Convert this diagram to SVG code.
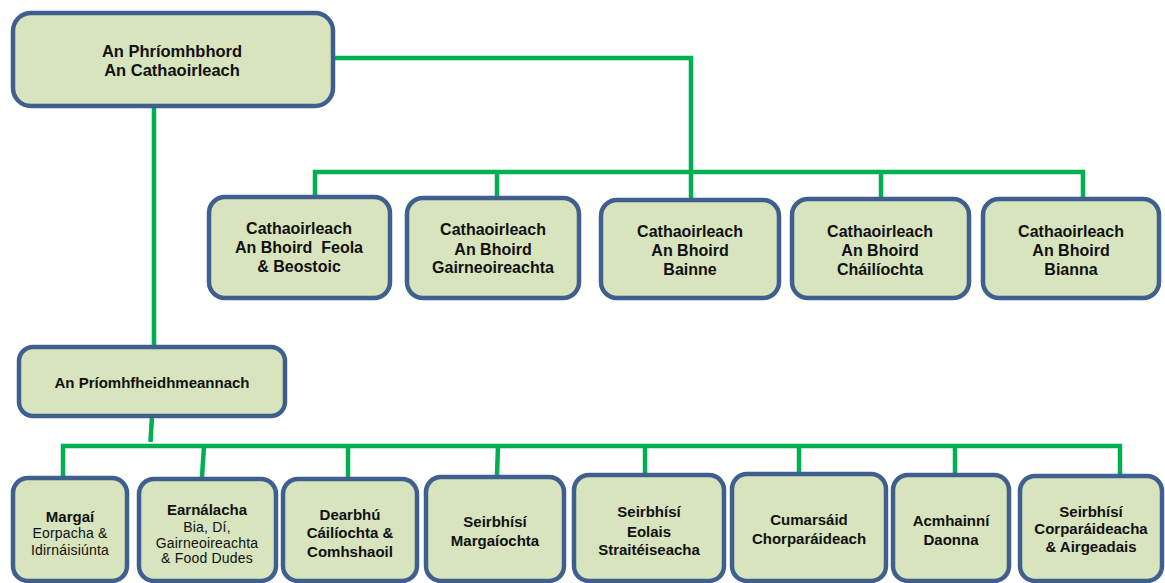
<svg xmlns="http://www.w3.org/2000/svg" width="1165" height="583" viewBox="0 0 1165 583">
<style>
.box{fill:#D7E4BD;stroke:#3F608F;stroke-width:4.5}
.t{font-family:"Liberation Sans",Arial,sans-serif;font-weight:bold;font-size:16px;fill:#111;text-anchor:middle}
.tt{font-family:"Liberation Sans",Arial,sans-serif;font-weight:bold;font-size:16.5px;fill:#111;text-anchor:middle}
.b{font-family:"Liberation Sans",Arial,sans-serif;font-weight:bold;font-size:15px;fill:#111;text-anchor:middle}
.s{font-family:"Liberation Sans",Arial,sans-serif;font-size:14px;fill:#111;text-anchor:middle;letter-spacing:0.2px}
.c{fill:none;stroke:#00B050;stroke-width:4.5}
</style>
<rect width="1165" height="583" fill="#fff"/>
<g id="connectors">
<polyline class="c" points="333,58 691,58 691,200"/>
<polyline class="c" points="315,197 315,172 1083,172 1083,199"/>
<line class="c" x1="497" y1="172" x2="497" y2="198"/>
<line class="c" x1="881" y1="172" x2="881" y2="199"/>
<line class="c" x1="154" y1="106" x2="154" y2="347"/>
<line class="c" x1="152" y1="416" x2="150.5" y2="442"/>
<polyline class="c" points="63,477 63,446 1120,446 1120,476"/>
<line class="c" x1="204" y1="446" x2="202" y2="477"/>
<line class="c" x1="348" y1="446" x2="348" y2="477"/>
<line class="c" x1="498" y1="446" x2="497" y2="476"/>
<line class="c" x1="645" y1="446" x2="645" y2="475"/>
<line class="c" x1="799" y1="446" x2="799" y2="474"/>
<line class="c" x1="955" y1="446" x2="955" y2="474"/>
</g>
<g id="n-top"><rect class="box" x="13" y="13" width="320" height="93" rx="18"/>
<text class="tt" x="172" y="57">An Phríomhbhord</text><text class="tt" x="172" y="76">An Cathaoirleach</text></g>
<g id="n-feola"><rect class="box" x="209" y="197" width="181" height="101" rx="16"/>
<text class="t" x="299" y="234">Cathaoirleach</text><text class="t" x="299" y="253" xml:space="preserve">An Bhoird  Feola</text><text class="t" x="299" y="272">&amp; Beostoic</text></g>
<g id="n-gairne"><rect class="box" x="407" y="198" width="172" height="100" rx="16"/>
<text class="t" x="493" y="235">Cathaoirleach</text><text class="t" x="493" y="255">An Bhoird</text><text class="t" x="493" y="273">Gairneoireachta</text></g>
<g id="n-bainne"><rect class="box" x="601" y="200" width="178" height="98" rx="16"/>
<text class="t" x="690" y="237">Cathaoirleach</text><text class="t" x="690" y="256">An Bhoird</text><text class="t" x="690" y="275">Bainne</text></g>
<g id="n-cail"><rect class="box" x="792" y="199" width="177" height="99" rx="16"/>
<text class="t" x="880" y="237">Cathaoirleach</text><text class="t" x="880" y="256">An Bhoird</text><text class="t" x="880" y="275">Cháilíochta</text></g>
<g id="n-bianna"><rect class="box" x="983" y="199" width="176" height="99" rx="16"/>
<text class="t" x="1071" y="237">Cathaoirleach</text><text class="t" x="1071" y="256">An Bhoird</text><text class="t" x="1071" y="275">Bianna</text></g>
<g id="n-priomh"><rect class="box" x="19" y="347" width="266" height="69" rx="14"/>
<text class="b" x="152" y="388">An Príomhfheidhmeannach</text></g>
<g id="n-margai"><rect class="box" x="13" y="478" width="114" height="103" rx="15"/>
<text class="b" x="70" y="522">Margaí</text><text class="s" x="70" y="538">Eorpacha &amp;</text><text class="s" x="70" y="555">Idirnáisiúnta</text></g>
<g id="n-earn"><rect class="box" x="139" y="479" width="137" height="102" rx="15"/>
<text class="b" x="207" y="515">Earnálacha</text><text class="s" x="207" y="532">Bia, Dí,</text><text class="s" x="207" y="548">Gairneoireachta</text><text class="s" x="207" y="563">&amp; Food Dudes</text></g>
<g id="n-dearbhu"><rect class="box" x="283" y="479" width="134" height="102" rx="15"/>
<text class="b" x="350" y="520">Dearbhú</text><text class="b" x="350" y="538">Cáilíochta &amp;</text><text class="b" x="350" y="557">Comhshaoil</text></g>
<g id="n-seirbmarg"><rect class="box" x="426" y="477" width="138" height="104" rx="15"/>
<text class="b" x="495" y="527">Seirbhísí</text><text class="b" x="495" y="546">Margaíochta</text></g>
<g id="n-eolais"><rect class="box" x="574" y="475" width="150" height="106" rx="15"/>
<text class="b" x="649" y="517">Seirbhísí</text><text class="b" x="649" y="537">Eolais</text><text class="b" x="649" y="555">Straitéiseacha</text></g>
<g id="n-cumarsaid"><rect class="box" x="732" y="474" width="154" height="107" rx="15"/>
<text class="b" x="809" y="525">Cumarsáid</text><text class="b" x="809" y="544">Chorparáideach</text></g>
<g id="n-acmh"><rect class="box" x="893" y="475" width="116" height="106" rx="15"/>
<text class="b" x="951" y="526">Acmhainní</text><text class="b" x="951" y="545">Daonna</text></g>
<g id="n-corp"><rect class="box" x="1020" y="476" width="142" height="105" rx="15"/>
<text class="b" x="1091" y="517">Seirbhísí</text><text class="b" x="1091" y="534">Corparáideacha</text><text class="b" x="1091" y="552">&amp; Airgeadais</text></g>
</svg>
